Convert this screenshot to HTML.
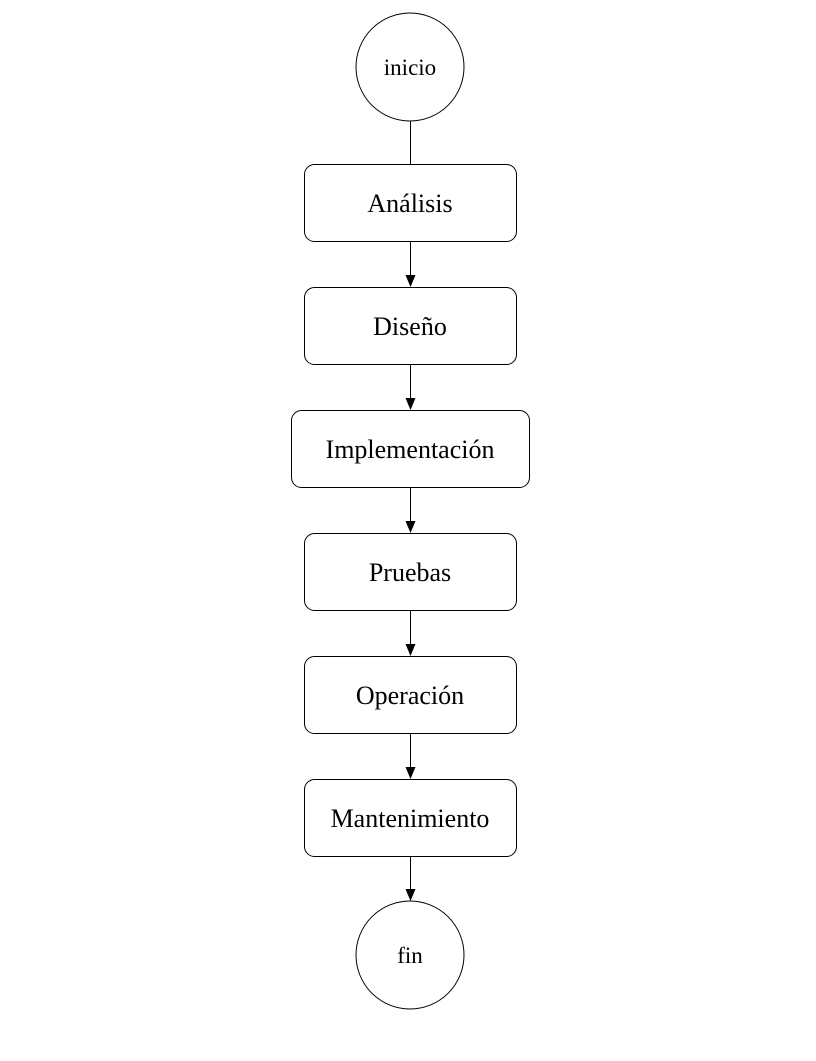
<!DOCTYPE html>
<html><head><meta charset="utf-8"><style>body{margin:0;background:#fff}</style></head>
<body>
<svg width="816" height="1056" xmlns="http://www.w3.org/2000/svg" font-family="Liberation Serif, serif" text-anchor="middle">
<g fill="#fff" stroke="#000" stroke-width="1">
<circle cx="410" cy="67" r="54"/>
<rect x="304.5" y="164.5" width="212" height="77" rx="10"/>
<rect x="304.5" y="287.5" width="212" height="77" rx="10"/>
<rect x="291.5" y="410.5" width="238" height="77" rx="10"/>
<rect x="304.5" y="533.5" width="212" height="77" rx="10"/>
<rect x="304.5" y="656.5" width="212" height="77" rx="10"/>
<rect x="304.5" y="779.5" width="212" height="77" rx="10"/>
<circle cx="410" cy="955" r="54"/>
</g>
<g stroke="#000" stroke-width="1">
<line x1="410.5" y1="121" x2="410.5" y2="164"/>
<line x1="410.5" y1="242" x2="410.5" y2="276"/>
<line x1="410.5" y1="365" x2="410.5" y2="399"/>
<line x1="410.5" y1="488" x2="410.5" y2="522"/>
<line x1="410.5" y1="611" x2="410.5" y2="645"/>
<line x1="410.5" y1="734" x2="410.5" y2="768"/>
<line x1="410.5" y1="857" x2="410.5" y2="890"/>
</g>
<g fill="#000">
<path d="M405.5,275 L415.5,275 L410.5,287 z"/>
<path d="M405.5,398 L415.5,398 L410.5,410 z"/>
<path d="M405.5,521 L415.5,521 L410.5,533 z"/>
<path d="M405.5,644 L415.5,644 L410.5,656 z"/>
<path d="M405.5,767 L415.5,767 L410.5,779 z"/>
<path d="M405.5,889 L415.5,889 L410.5,901 z"/>
</g>
<g font-size="23" fill="#000">
<text x="410" y="75">inicio</text>
<text x="410" y="963">fin</text>
</g>
<g font-size="26" fill="#000">
<text x="410" y="212">Análisis</text>
<text x="410" y="335">Diseño</text>
<text x="410" y="458">Implementación</text>
<text x="410" y="581">Pruebas</text>
<text x="410" y="704">Operación</text>
<text x="410" y="827">Mantenimiento</text>
</g>
</svg>
</body></html>
